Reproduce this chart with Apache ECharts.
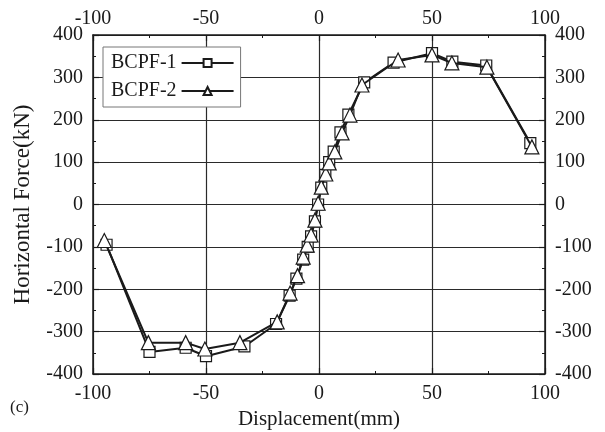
<!DOCTYPE html>
<html>
<head>
<meta charset="utf-8">
<script src="https://cdn.jsdelivr.net/npm/echarts@6/dist/echarts.min.js"></script>
<style>
  html, body { margin: 0; padding: 0; background: #fff; }
  #chart { width: 605px; height: 432px; }
</style>
</head>
<body>
<div id="chart"></div>
<script>
// BCPF-1 (squares)
var disp1 = [-94, -75, -59, -50, -33, -19, -13, -10, -7, -5, -3.5, -1.8, -0.4, 1, 2.8, 4.5, 6.5, 9.5, 13, 20, 33, 50, 59, 74, 93.5];
var force1 = [-95, -348, -338, -358, -335, -282, -215, -175, -130, -100, -75, -40, 0, 40, 70, 100, 125, 170, 212, 288, 335, 357, 337, 328, 145];

// BCPF-2 (triangles)
var disp2 = [-95, -75.5, -59, -50.5, -35, -18.5, -12.8, -9.5, -7, -5.2, -3.5, -1.8, -0.4, 1, 3, 4.5, 7, 10.2, 13.7, 19, 35, 50, 58.8, 74.3, 94.2];
var force2 = [-85, -326, -326, -341, -326, -277, -209, -168, -124, -96, -72, -37, 3, 41, 72, 98, 124, 169, 211, 282, 341, 353, 334, 324, 136];

var seriesNames = ['BCPF-1', 'BCPF-2'];

function pairs(xs, ys) {
    var ret = [];
    xs.forEach(function(x, i) {
        ret.push([x, ys[i]]);
    });
    return ret;
}

var font = 'Liberation Serif';
var ink = '#1a1a1a';

function xAxisOf(pos, grid, margin) {
    return {
        type: 'value',
        position: pos,
        min: -100, max: 100, interval: 50,
        axisLine: { show: true, onZero: false, lineStyle: { color: ink, width: 1.5 } },
        axisTick: { show: true, inside: true, length: 6, lineStyle: { color: ink, width: 1.2 } },
        minorTick: { show: true, splitNumber: 2, length: 3, lineStyle: { color: ink } },
        axisLabel: { color: ink, fontFamily: font, fontSize: 20, margin: margin },
        splitLine: { show: grid, lineStyle: { color: '#2a2a2a', width: 1.2 } }
    };
}

function yAxisOf(pos, grid) {
    return {
        type: 'value',
        position: pos,
        min: -400, max: 400, interval: 100,
        axisLine: { show: true, onZero: false, lineStyle: { color: ink, width: 1.5 } },
        axisTick: { show: true, inside: true, length: 6, lineStyle: { color: ink, width: 1.2 } },
        minorTick: { show: true, splitNumber: 2, length: 3, lineStyle: { color: ink } },
        axisLabel: { color: ink, fontFamily: font, fontSize: 20, margin: 10 },
        splitLine: { show: grid, lineStyle: { color: '#2a2a2a', width: 1.2 } }
    };
}

var bottomX = xAxisOf('bottom', true, 10);
bottomX.name = 'Displacement(mm)';
bottomX.nameLocation = 'middle';
bottomX.nameGap = 32;
bottomX.nameTextStyle = { color: ink, fontFamily: font, fontSize: 21 };

var leftY = yAxisOf('left', true);
leftY.name = 'Horizontal Force(kN)';
leftY.nameLocation = 'middle';
leftY.nameGap = 59;
leftY.nameTextStyle = { color: ink, fontFamily: font, fontSize: 23 };

var chart = echarts.init(document.getElementById('chart'));
chart.setOption({
    backgroundColor: '#fff',
    animation: false,
    grid: { left: 93, right: 60, top: 35, bottom: 58, outerBoundsMode: 'none' },
    xAxis: [bottomX, xAxisOf('top', false, 6)],
    yAxis: [leftY, yAxisOf('right', false)],
    legend: {
        orient: 'vertical',
        left: 103, top: 47,
        align: 'right',
        backgroundColor: '#fff',
        borderColor: '#777',
        borderWidth: 1,
        padding: [6, 6, 6, 8],
        itemWidth: 52, itemHeight: 10,
        itemGap: 8,
        textStyle: { color: ink, fontFamily: font, fontSize: 20 },
        data: seriesNames
    },
    graphic: [{
        type: 'text', left: 10, top: 399,
        style: { text: '(c)', fill: ink, font: '17px "Liberation Serif"' }
    }],
    series: [{
        name: seriesNames[0],
        type: 'line',
        data: pairs(disp1, force1),
        symbol: 'rect',
        symbolSize: 11,
        lineStyle: { color: ink, width: 2 },
        itemStyle: { color: '#fff', borderColor: ink, borderWidth: 1.2 },
        z: 3
    }, {
        name: seriesNames[1],
        type: 'line',
        data: pairs(disp2, force2),
        symbol: 'triangle',
        symbolSize: 14,
        lineStyle: { color: ink, width: 2 },
        itemStyle: { color: '#fff', borderColor: ink, borderWidth: 1.2 },
        z: 4
    }]
});
</script>
</body>
</html>
